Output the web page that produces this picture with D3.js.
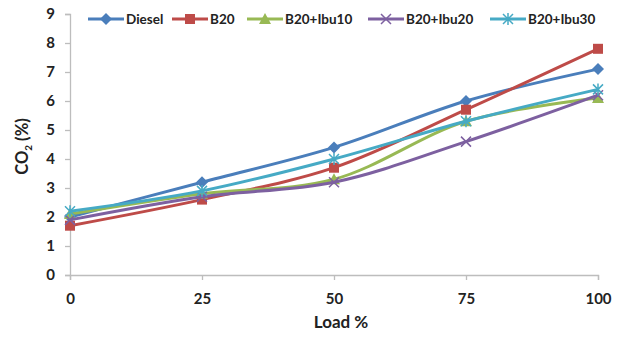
<!DOCTYPE html>
<html>
<head>
<meta charset="utf-8">
<script src="https://cdn.jsdelivr.net/npm/d3@7"></script>
<style>
  body { margin: 0; background: #fff; }
  text { font-family: Lato, "Open Sans", sans-serif; font-weight: bold; fill: #222; }
</style>
</head>
<body>
<svg id="chart"></svg>
<script>
var width = 627,
  height = 343;

// data
var loads = [0, 25, 50, 75, 100];
var seriesNames = ['Diesel', 'B20', 'B20+Ibu10', 'B20+Ibu20', 'B20+Ibu30'];
var diesel = [2.0, 3.2, 4.4, 6.0, 7.1];
var b20 = [1.7, 2.6, 3.7, 5.7, 7.8];
var ibu10 = [2.1, 2.8, 3.3, 5.3, 6.1];
var ibu20 = [1.9, 2.7, 3.2, 4.6, 6.2];
var ibu30 = [2.2, 2.9, 4.0, 5.3, 6.4];
var yTicks = [0, 1, 2, 3, 4, 5, 6, 7, 8, 9];

var colors = ['#4a7ebb', '#be4b48', '#98b954', '#7d60a0', '#46aac5'];
var markers = ['diamond', 'square', 'triangle', 'cross', 'star'];
var allSeries = [diesel, b20, ibu10, ibu20, ibu30];

var margin = { left: 70, right: 29, top: 14, bottom: 68 };

var svg = d3.select('#chart')
  .attr('width', width)
  .attr('height', height);

var x = d3.scaleLinear()
  .domain([0, 100])
  .range([margin.left, width - margin.right]);

var y = d3.scaleLinear()
  .domain([0, 9])
  .range([height - margin.bottom, margin.top]);

// axes
var yAxis = svg.append('g')
  .attr('transform', 'translate(' + margin.left + ',0)')
  .call(d3.axisLeft(y).tickValues(yTicks).tickSize(5).tickPadding(10));

var xAxis = svg.append('g')
  .attr('transform', 'translate(0,' + y(0) + ')')
  .call(d3.axisBottom(x).tickValues(loads).tickSize(5).tickPadding(13));

[yAxis, xAxis].forEach(function(a) {
  a.selectAll('path, line').attr('stroke', '#bdbdbd').attr('stroke-width', 1.3);
  a.selectAll('text').style('font-size', '15px').attr('fill', '#222');
});

svg.append('text')
  .attr('transform', 'translate(28,' + (y(4.5) + 2) + ')rotate(-90)')
  .attr('text-anchor', 'middle')
  .style('font-size', '16.5px')
  .html('CO<tspan dy="4" style="font-size:10px">2</tspan><tspan dy="-4"> (%)</tspan>');

svg.append('text')
  .attr('x', x(50) + 7)
  .attr('y', 328)
  .attr('text-anchor', 'middle')
  .style('font-size', '17px')
  .text('Load %');

function drawMarker(g, type, color, cx, cy) {
  var s = 5;
  if (type === 'diamond') {
    g.append('path')
      .attr('d', 'M' + cx + ',' + (cy - s - 1) + 'L' + (cx + s + 1) + ',' + cy + 'L' + cx + ',' + (cy + s + 1) + 'L' + (cx - s - 1) + ',' + cy + 'Z')
      .attr('fill', color);
  } else if (type === 'square') {
    g.append('rect')
      .attr('x', cx - s).attr('y', cy - s)
      .attr('width', 2 * s).attr('height', 2 * s)
      .attr('fill', color);
  } else if (type === 'triangle') {
    g.append('path')
      .attr('d', 'M' + cx + ',' + (cy - s - 1) + 'L' + (cx + s + 1) + ',' + (cy + s) + 'L' + (cx - s - 1) + ',' + (cy + s) + 'Z')
      .attr('fill', color);
  } else {
    g.append('path')
      .attr('d', 'M' + (cx - s) + ',' + (cy - s) + 'L' + (cx + s) + ',' + (cy + s) + 'M' + (cx + s) + ',' + (cy - s) + 'L' + (cx - s) + ',' + (cy + s) +
        (type === 'star' ? 'M' + cx + ',' + (cy - s - 1) + 'L' + cx + ',' + (cy + s + 1) : ''))
      .attr('stroke', color)
      .attr('stroke-width', 1.5)
      .attr('fill', 'none');
  }
}

var line = d3.line()
  .x(function(d, i) { return x(loads[i]); })
  .y(function(d) { return y(d); })
  .curve(d3.curveCatmullRom.alpha(0.5));

var plot = svg.append('g');

allSeries.forEach(function(vals, k) {
  var g = plot.append('g');
  g.append('path')
    .datum(vals)
    .attr('d', line)
    .attr('fill', 'none')
    .attr('stroke', colors[k])
    .attr('stroke-width', 3);
  vals.forEach(function(v, i) {
    drawMarker(g, markers[k], colors[k], x(loads[i]), y(v));
  });
});

// legend
var legendX = [88, 172, 247, 368, 490];
var legend = svg.append('g');
seriesNames.forEach(function(name, k) {
  var lx = legendX[k], ly = 19;
  legend.append('line')
    .attr('x1', lx).attr('x2', lx + 36)
    .attr('y1', ly).attr('y2', ly)
    .attr('stroke', colors[k])
    .attr('stroke-width', 3);
  drawMarker(legend, markers[k], colors[k], lx + 18, ly);
  legend.append('text')
    .attr('x', lx + 38)
    .attr('y', ly + 5)
    .style('font-size', '13.5px')
    .text(name);
});
</script>
</body>
</html>
